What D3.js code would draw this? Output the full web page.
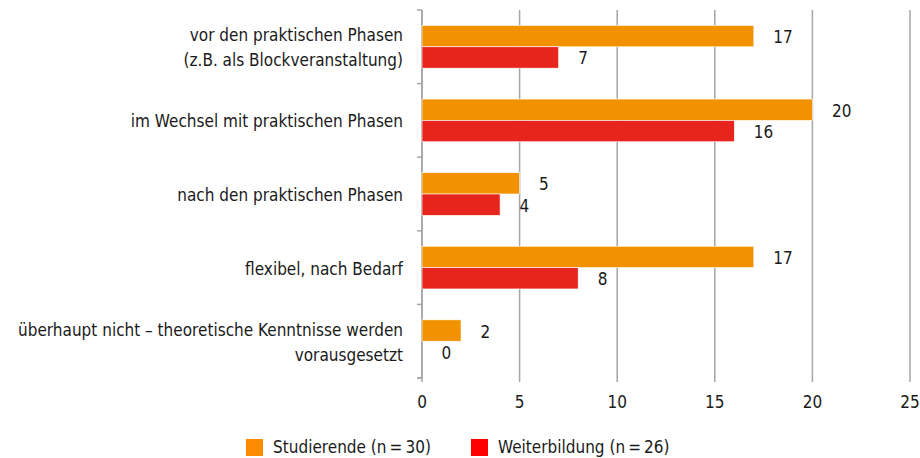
<!DOCTYPE html>
<html>
<head>
<meta charset="utf-8">
<script src="https://d3js.org/d3.v7.min.js"></script>
<style>
  body { margin: 0; background: #fff; }
  svg text { font-family: "Liberation Sans Narrow", "DejaVu Sans Condensed", "DejaVu Sans", sans-serif; font-stretch: condensed; fill: #1a1a1a; }
</style>
</head>
<body>
<div id="chart"></div>
<script>
// Kategorien (von oben nach unten), Zeilen getrennt
const categories = [
  ["vor den praktischen Phasen", "(z.B. als Blockveranstaltung)"],
  ["im Wechsel mit praktischen Phasen"],
  ["nach den praktischen Phasen"],
  ["flexibel, nach Bedarf"],
  ["überhaupt nicht – theoretische Kenntnisse werden", "vorausgesetzt"]
];
const studierende = [17, 20, 5, 17, 2];
const weiterbildung = [7, 16, 4, 8, 0];
const seriesNames = ["Studierende (n\u2009=\u200930)", "Weiterbildung (n\u2009=\u200926)"];
const xTicks = [0, 5, 10, 15, 20, 25];

const width = 920, height = 458;
const margin = { top: 10, right: 10, bottom: 80, left: 422 };
const innerH = height - margin.top - margin.bottom;

const barColors = ["#f39200", "#e8251c"];
const legendColors = ["#ff8c00", "#ff0000"];
const gridColor = "#a6a6a6";
const FS = 18.5, SX = 0.92;

const svg = d3.select('#chart').append('svg')
  .attr('width', width)
  .attr('height', height);

const g = svg.append('g').attr('transform', `translate(${margin.left},${margin.top})`);

// schmale Schrift: horizontal gestauchter Text
function label(parent, px, py, txt, anchor) {
  return parent.append('text')
    .attr('transform', `translate(${px},${py}) scale(${SX},1)`)
    .attr('text-anchor', anchor || 'start')
    .attr('font-size', FS)
    .text(txt);
}

const x = d3.scaleLinear().domain([0, 25]).range([0, 488]);
const y = d3.scaleBand().domain(d3.range(categories.length)).range([0, innerH]).paddingInner(0.42).paddingOuter(0.21);
const inner = d3.scaleBand().domain([0, 1]).range([0, y.bandwidth()]);

// Gitterlinien
xTicks.forEach(v => {
  g.append('line')
    .attr('x1', x(v)).attr('x2', x(v))
    .attr('y1', 0).attr('y2', innerH + 4)
    .attr('stroke', gridColor).attr('stroke-width', 1.5);
  label(g, x(v), innerH + 30, v, 'middle');
});

// y-Achse mit Teilstrichen zwischen den Kategorien
g.append('line')
  .attr('x1', 0).attr('x2', 0).attr('y1', 0).attr('y2', innerH)
  .attr('stroke', gridColor).attr('stroke-width', 1.5);
const step = y.step();
const bandStart = y(0) - y.paddingOuter() * step;
d3.range(categories.length + 1).forEach(i => {
  const yy = bandStart + i * step;
  g.append('line')
    .attr('x1', -5).attr('x2', 0).attr('y1', yy).attr('y2', yy)
    .attr('stroke', gridColor).attr('stroke-width', 1.5);
});
g.append('line')
  .attr('x1', -5).attr('x2', 0).attr('y1', innerH).attr('y2', innerH)
  .attr('stroke', gridColor).attr('stroke-width', 1.5);

[studierende, weiterbildung].forEach((vals, s) => {
  vals.forEach((v, i) => {
    const by = y(i) + inner(s);
    g.append('rect')
      .attr('x', x(0)).attr('y', by)
      .attr('width', x(v) - x(0)).attr('height', inner.bandwidth())
      .attr('fill', barColors[s])
      .attr('stroke', v > 0 ? '#fff' : 'none').attr('stroke-width', 0.6);
    label(g, x(v) + 19.5, by + inner.bandwidth() / 2 + 7, v);
  });
});

// Kategorienbeschriftung
categories.forEach((lines, i) => {
  const cy = y(i) + y.bandwidth() / 2;
  const lh = 25;
  lines.forEach((t, j) => {
    label(g, -19, cy + (j - (lines.length - 1) / 2) * lh + 7, t, 'end');
  });
});

// Legende
const legendX = [246, 471];
seriesNames.forEach((name, s) => {
  svg.append('rect')
    .attr('x', legendX[s]).attr('y', 439)
    .attr('width', 17).attr('height', 17)
    .attr('fill', legendColors[s]);
  label(svg, legendX[s] + 27, 453, name);
});
</script>
</body>
</html>
